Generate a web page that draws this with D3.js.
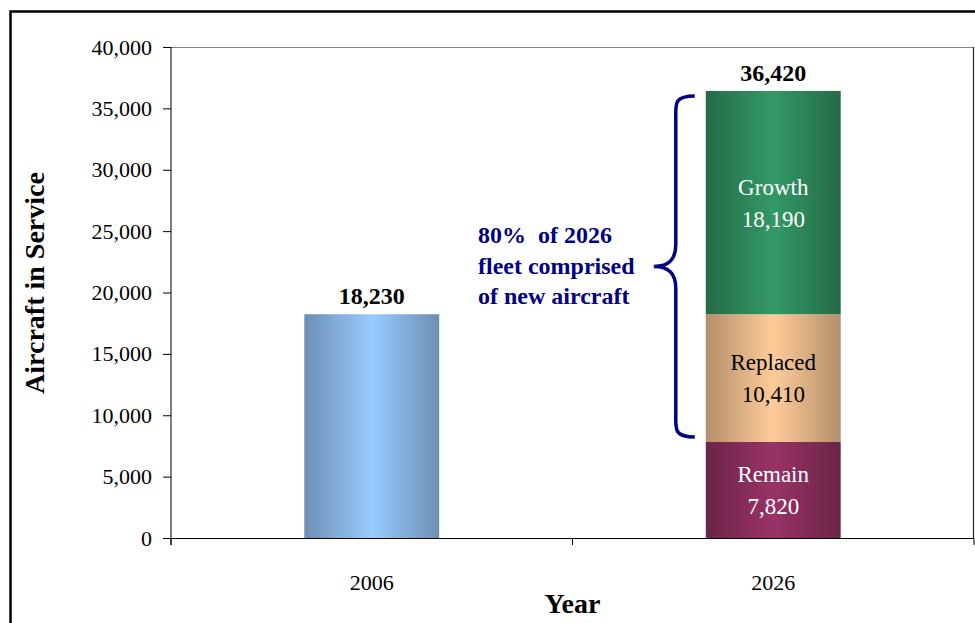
<!DOCTYPE html>
<html>
<head>
<meta charset="utf-8">
<script src="https://cdn.jsdelivr.net/npm/d3@7"></script>
<style>
  html, body { margin: 0; padding: 0; background: #fff; }
  svg { display: block; font-family: "Liberation Serif", "Times New Roman", serif; }
</style>
</head>
<body>
<svg id="chart" width="975" height="623"></svg>
<script>
// Fleet in service by year, split into components for the forecast year
const years = ["2006", "2026"];
const inService = [18230, 0];
const remain = [0, 7820];
const replaced = [0, 10410];
const growth = [0, 18190];
const yTicks = [0, 5000, 10000, 15000, 20000, 25000, 30000, 35000, 40000];

const seriesKeys = ["inService", "remain", "replaced", "growth"];
const seriesLabels = { inService: null, remain: "Remain", replaced: "Replaced", growth: "Growth" };
const seriesColors = {
  inService: ["#6b8fb3", "#99ccff"],
  remain: ["#6b2447", "#993366"],
  replaced: ["#b38f6b", "#ffcc99"],
  growth: ["#246b47", "#339966"]
};
const labelColors = { remain: "#ffffff", replaced: "#000000", growth: "#ffffff" };
const serif = "Liberation Serif, Times New Roman, serif";

const rows = years.map((yr, i) => ({
  year: yr,
  inService: inService[i],
  remain: remain[i],
  replaced: replaced[i],
  growth: growth[i]
}));

const svg = d3.select("#chart");
const plotLeft = 171, plotRight = 974, plotTop = 47, plotBottom = 538;

const x = d3.scaleBand().domain(years).range([plotLeft, plotRight]).paddingInner(0.664).paddingOuter(0.332);
const xCat = d3.scaleBand().domain(years).range([plotLeft, plotRight]).padding(0);
const y = d3.scaleLinear().domain([0, 40000]).range([plotBottom, plotTop]);

// Outer chart frame
svg.append("rect")
  .attr("x", 10.5).attr("y", 11.5)
  .attr("width", 1000).attr("height", 700)
  .attr("fill", "none").attr("stroke", "#000").attr("stroke-width", 2.5);

// Gradients: dark edges, light centre
const defs = svg.append("defs");
seriesKeys.forEach(k => {
  const g = defs.append("linearGradient").attr("id", "grad-" + k)
    .attr("x1", "0%").attr("x2", "100%").attr("y1", "0%").attr("y2", "0%");
  const [dark, light] = seriesColors[k];
  g.append("stop").attr("offset", "0%").attr("stop-color", dark);
  g.append("stop").attr("offset", "50%").attr("stop-color", light);
  g.append("stop").attr("offset", "100%").attr("stop-color", dark);
});

// Plot area border (top and right)
svg.append("line").attr("x1", plotLeft).attr("x2", plotRight).attr("y1", plotTop + 0.5).attr("y2", plotTop + 0.5)
  .attr("stroke", "#808080").attr("stroke-width", 1.2);
svg.append("line").attr("x1", plotRight - 0.5).attr("x2", plotRight - 0.5).attr("y1", plotTop).attr("y2", plotBottom)
  .attr("stroke", "#222").attr("stroke-width", 1.2);

// Stacked bars
const stacked = d3.stack().keys(seriesKeys)(rows);
const layers = svg.append("g").selectAll("g").data(stacked).join("g")
  .attr("fill", d => "url(#grad-" + d.key + ")");
layers.selectAll("rect")
  .data(d => d.map(v => ({ key: d.key, y0: v[0], y1: v[1], year: v.data.year })).filter(v => v.y1 > v.y0))
  .join("rect")
  .attr("x", d => x(d.year))
  .attr("width", x.bandwidth())
  .attr("y", d => y(d.y1))
  .attr("height", d => y(d.y0) - y(d.y1));

// Segment labels inside the stacked bar
const fmt = d3.format(",");
stacked.forEach(layer => {
  if (!seriesLabels[layer.key]) return;
  layer.forEach(v => {
    const val = v[1] - v[0];
    if (val <= 0) return;
    const cx = x(v.data.year) + x.bandwidth() / 2;
    const cy = y((v[0] + v[1]) / 2);
    const t = svg.append("text")
      .attr("text-anchor", "middle")
      .attr("font-family", serif)
      .attr("font-size", 23)
      .attr("fill", labelColors[layer.key]);
    t.append("tspan").attr("x", cx).attr("y", cy - 8).text(seriesLabels[layer.key]);
    t.append("tspan").attr("x", cx).attr("y", cy + 24).text(fmt(val));
  });
});

// Totals above bars
rows.forEach(r => {
  const total = d3.sum(seriesKeys, k => r[k]);
  svg.append("text")
    .attr("x", x(r.year) + x.bandwidth() / 2)
    .attr("y", y(total) - 10)
    .attr("text-anchor", "middle")
    .attr("font-family", serif)
    .attr("font-size", 24)
    .attr("font-weight", "bold")
    .attr("fill", "#000")
    .text(fmt(total));
});

// Y axis
const yAxis = svg.append("g")
  .attr("transform", `translate(${plotLeft},0)`)
  .call(d3.axisLeft(y).tickValues(yTicks).tickFormat(fmt).tickSize(8).tickPadding(11));
yAxis.select(".domain").attr("stroke", "#000").attr("d", `M0,${plotTop}V${plotBottom + 7}`);
yAxis.selectAll(".tick line").attr("stroke", "#000");
yAxis.selectAll(".tick text")
  .attr("font-family", serif)
  .attr("font-size", 22).attr("fill", "#000");

// X axis: labels centred, ticks at category boundaries
const xAxis = svg.append("g")
  .attr("transform", `translate(0,${plotBottom})`)
  .call(d3.axisBottom(xCat).tickSize(0).tickPadding(36));
xAxis.select(".domain").attr("stroke", "#000").attr("d", `M${plotLeft},0.5H${plotRight}`);
xAxis.selectAll(".tick text")
  .attr("font-family", serif)
  .attr("font-size", 22).attr("fill", "#000");
const bounds = [plotLeft].concat(years.map(yv => xCat(yv) + xCat.bandwidth()));
xAxis.selectAll("line.bound").data(bounds).join("line")
  .attr("class", "bound")
  .attr("x1", d => d).attr("x2", d => d)
  .attr("y1", 0).attr("y2", 7)
  .attr("stroke", "#000");

// Axis titles
svg.append("text")
  .attr("transform", "translate(44,283) rotate(-90)")
  .attr("text-anchor", "middle")
  .attr("font-family", serif)
  .attr("font-size", 28).attr("font-weight", "bold")
  .text("Aircraft in Service");
svg.append("text")
  .attr("x", (plotLeft + plotRight) / 2).attr("y", 613)
  .attr("text-anchor", "middle")
  .attr("font-family", serif)
  .attr("font-size", 28).attr("font-weight", "bold")
  .text("Year");

// Brace spanning the new-aircraft segments of the forecast bar
const r26 = rows[1];
const braceTop = y(r26.remain + r26.replaced + r26.growth) + 5;
const braceBot = y(r26.remain) - 5;
const braceMid = (braceTop + braceBot) / 2;
const bx = x("2026") - 11, sx = x("2026") - 30, tx = x("2026") - 52;
const brace = d3.path();
brace.moveTo(bx, braceTop);
brace.bezierCurveTo(sx - 2, braceTop, sx, braceTop + 8, sx, braceTop + 22);
brace.lineTo(sx, braceMid - 22);
brace.bezierCurveTo(sx, braceMid - 8, sx - 6, braceMid, tx, braceMid);
brace.bezierCurveTo(sx - 6, braceMid, sx, braceMid + 8, sx, braceMid + 22);
brace.lineTo(sx, braceBot - 22);
brace.bezierCurveTo(sx, braceBot - 8, sx - 2, braceBot, bx, braceBot);
svg.append("path").attr("d", brace.toString())
  .attr("fill", "none").attr("stroke", "#000080").attr("stroke-width", 3.5)
  .attr("stroke-linecap", "butt");

// Annotation
const note = ["80%  of 2026", "fleet comprised", "of new aircraft"];
svg.append("text")
  .attr("font-family", serif)
  .attr("font-size", 24).attr("font-weight", "bold").attr("fill", "#000080")
  .style("white-space", "pre")
  .selectAll("tspan").data(note).join("tspan")
  .attr("x", 478).attr("y", (d, i) => 243 + i * 30.5)
  .text(d => d);
</script>
</body>
</html>
